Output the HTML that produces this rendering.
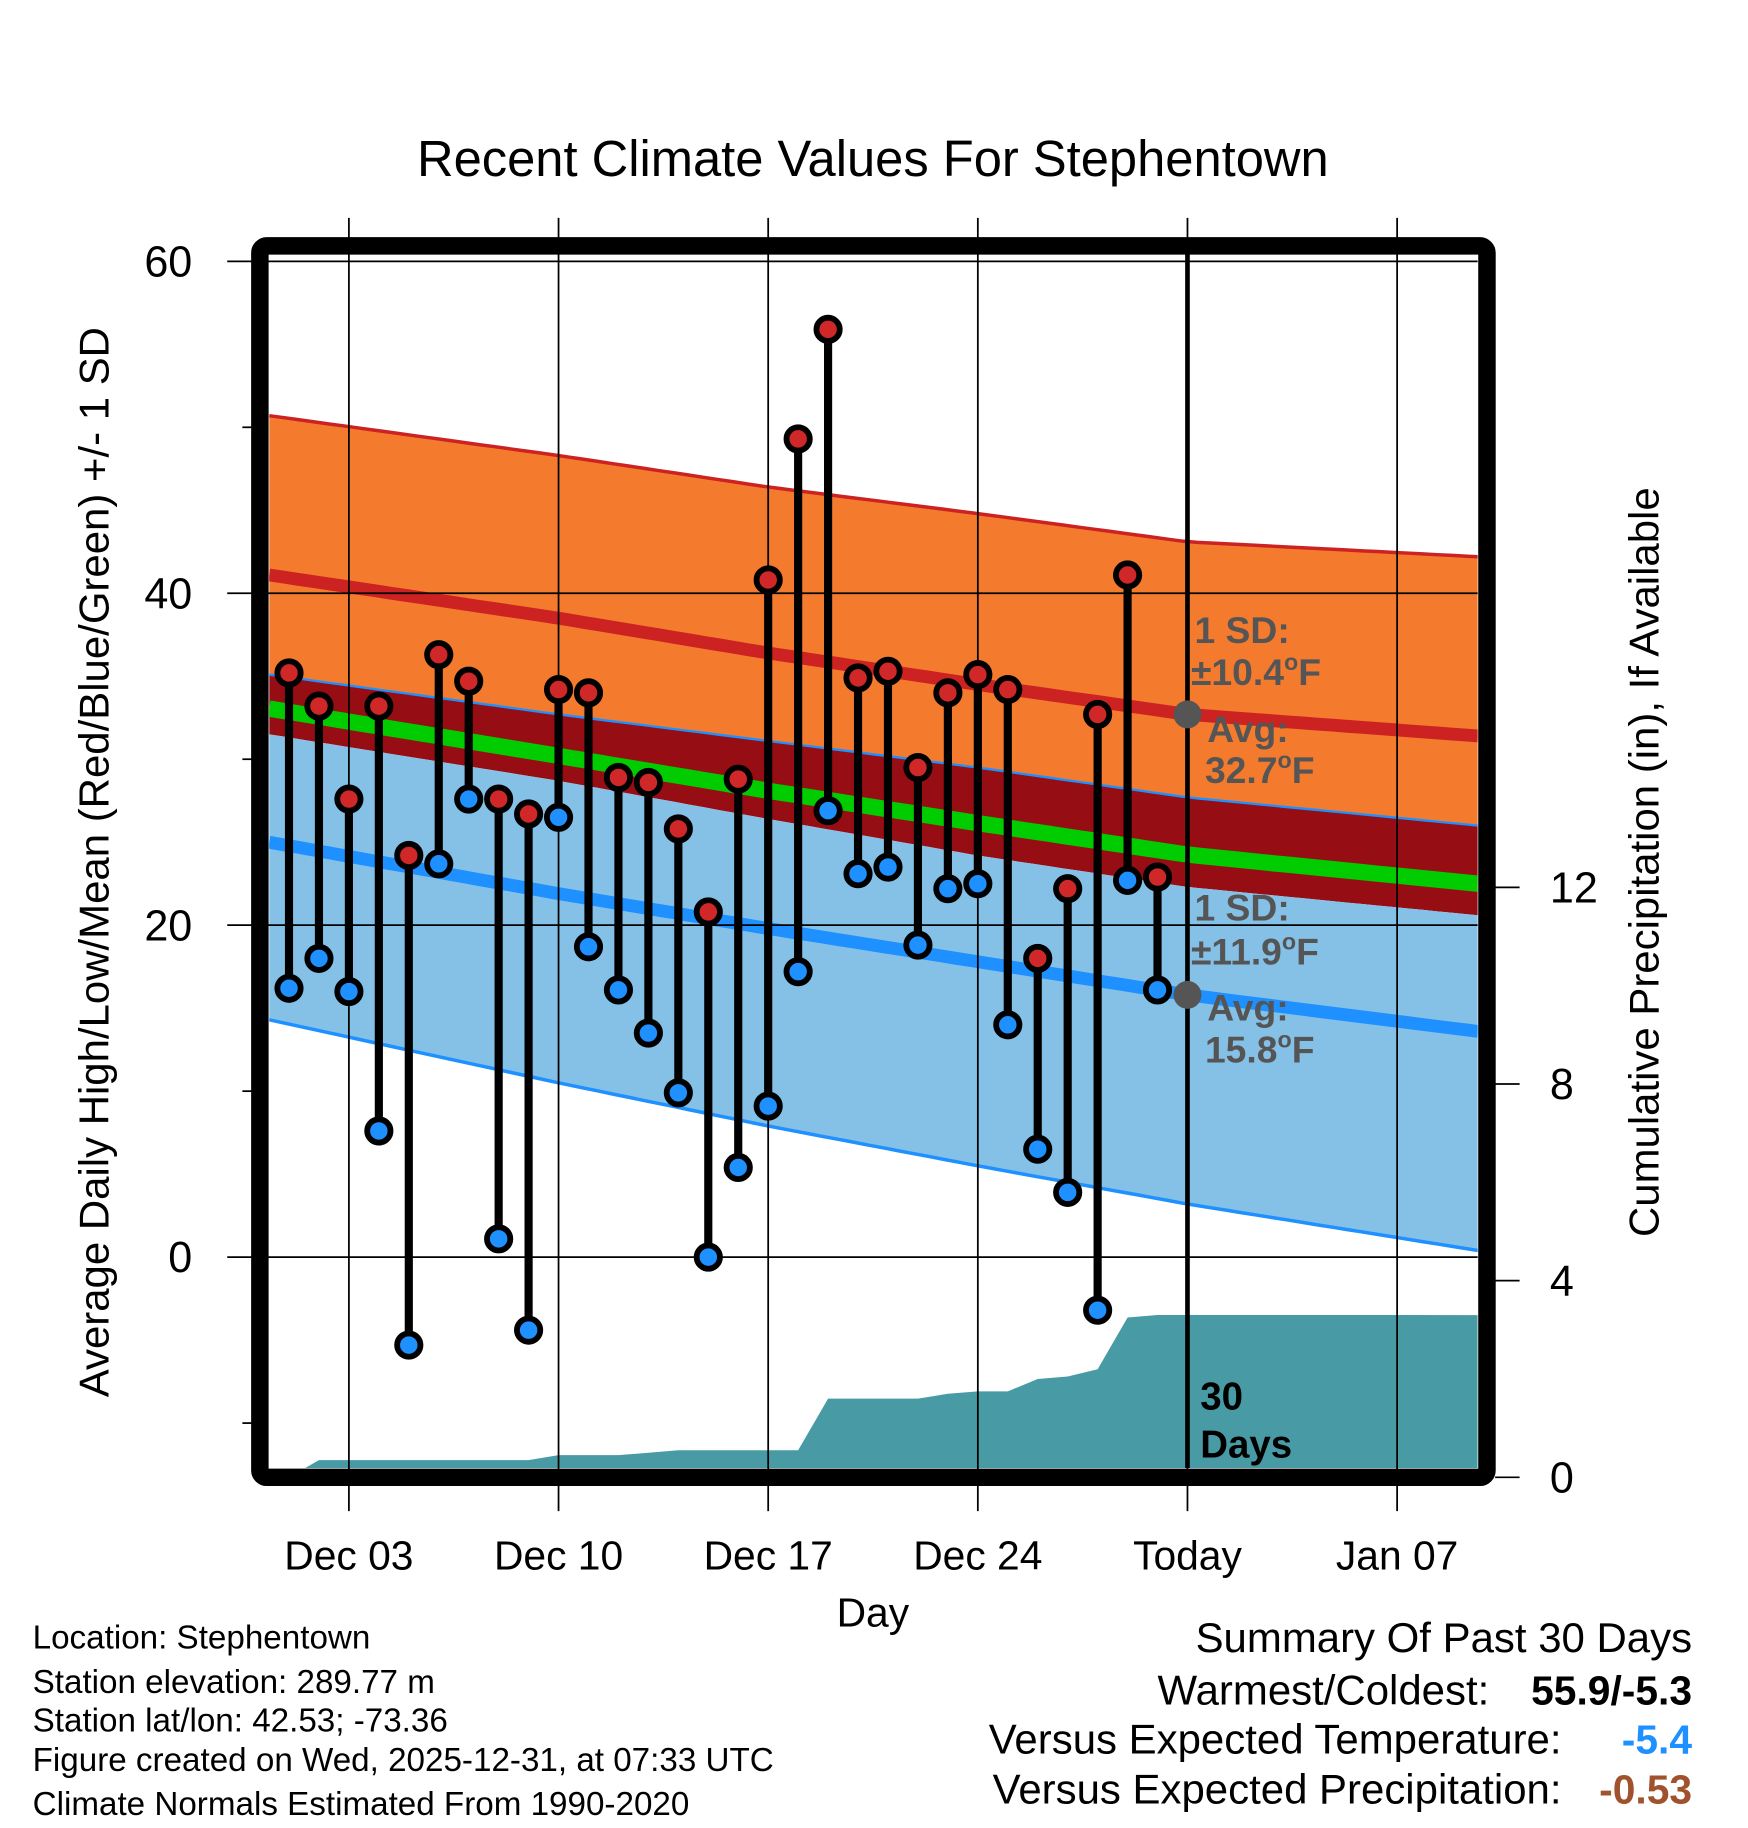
<!DOCTYPE html>
<html><head><meta charset="utf-8"><style>
html,body{margin:0;padding:0;background:#fff;}
svg{display:block;font-family:"Liberation Sans",sans-serif;}
</style></head><body>
<svg id="chart" width="1748" height="1828" viewBox="0 0 1500 1569" preserveAspectRatio="none" xmlns="http://www.w3.org/2000/svg">
<text x="749" y="151" font-size="43.5" text-anchor="middle">Recent Climate Values For Stephentown</text>
<g id="plot"></g>
</svg>
<script>
// ---- data ----
const dayLabels = ["Dec 03","Dec 10","Dec 17","Dec 24","Today","Jan 07"];
const dayLabelDays = [2,9,16,23,30,37];
const highs = [35.2,33.2,27.6,33.2,24.2,36.3,34.7,27.6,26.7,34.2,34.0,28.9,28.6,25.8,20.8,28.8,40.8,49.3,55.9,34.9,35.3,29.5,34.0,35.1,34.2,18.0,22.2,32.7,41.1,22.9];
const lows = [16.2,18.0,16.0,7.6,-5.3,23.7,27.6,1.1,-4.4,26.5,18.7,16.1,13.5,9.9,0.0,5.4,9.1,17.2,26.9,23.1,23.5,18.8,22.2,22.5,14.0,6.5,3.9,-3.2,22.7,16.1];
const precip = [0,0.35,0.35,0.35,0.35,0.35,0.35,0.35,0.35,0.45,0.45,0.45,0.5,0.55,0.55,0.55,0.55,0.55,1.6,1.6,1.6,1.6,1.7,1.75,1.75,2.0,2.05,2.2,3.25,3.3];
const normDays = [-0.66,9,16,23,30,39.7];
const normHigh = [41.1,38.5,36.4,34.5,32.7,31.4];
const highSD = [9.6,9.8,10.0,10.3,10.4,10.8];
const normLow = [25.0,21.9,19.8,17.8,15.8,13.6];
const lowSD = [10.1,10.8,11.3,11.7,11.9,12.4];
const lowSDLower = [10.7,11.4,11.9,12.3,12.6,13.2];
const yTicks = [0,20,40,60];
const yMinor = [-10,10,30,50];
const pTicks = [0,4,8,12];

// ---- axes ----
const X0=231,X1=1268,Y0=216,Y1=1260;
const xS=d=>248+d*25.7;
const yS=v=>1079-(v)*14.245;
const pS=p=>1268-p*42.2;
const NS="http://www.w3.org/2000/svg";
const g=document.getElementById('plot');
function mk(tag,attrs,parent){const e=document.createElementNS(NS,tag);for(const k in attrs)e.setAttribute(k,attrs[k]);(parent||g).appendChild(e);return e;}
function interp(arr,d){for(let i=0;i<normDays.length-1;i++){if(d<=normDays[i+1]||i==normDays.length-2){const t=(d-normDays[i])/(normDays[i+1]-normDays[i]);return arr[i]+(arr[i+1]-arr[i])*t;}}}
const samples=[];for(let d=normDays[0];d<normDays[5];d+=0.5)samples.push(d);samples.push(normDays[5]);
function series(fn){return samples.map(d=>[xS(d),yS(fn(d))]);}
function band(top,bot){const a=series(top),b=series(bot).reverse();return 'M'+a.concat(b).map(p=>p[0].toFixed(1)+','+p[1].toFixed(1)).join('L')+'Z';}
function line(fn){return 'M'+series(fn).map(p=>p[0].toFixed(1)+','+p[1].toFixed(1)).join('L');}
const hU=d=>interp(normHigh,d)+interp(highSD,d), hM=d=>interp(normHigh,d), hL=d=>interp(normHigh,d)-interp(highSD,d);
const lU=d=>interp(normLow,d)+interp(lowSD,d), lM=d=>interp(normLow,d), lL=d=>interp(normLow,d)-interp(lowSDLower,d);
const mean=d=>(hM(d)+lM(d))/2;

const clip=mk('clipPath',{id:'pc'});mk('rect',{x:X0,y:Y0,width:X1-X0,height:Y1-Y0},clip);
const pg=mk('g',{'clip-path':'url(#pc)'});

let e;
e=mk('path',{d:band(hU,lU),fill:'#f47a2e'},pg);


e=mk('path',{d:band(lU,hL),fill:'#960e14'},pg);


e=mk('path',{d:band(hL,lL),fill:'#85c1e6'},pg);


mk('path',{d:line(hU),fill:'none',stroke:'#cc2222','stroke-width':3},pg);
mk('path',{d:line(lU),fill:'none',stroke:'#1e90ff','stroke-width':2},pg);
mk('path',{d:line(lL),fill:'none',stroke:'#1e90ff','stroke-width':3},pg);
e=mk('path',{d:line(mean),fill:'none',stroke:'#00cc00','stroke-width':14},pg);


e=mk('path',{d:line(hM),fill:'none',stroke:'#cc2222','stroke-width':11},pg);


e=mk('path',{d:line(lM),fill:'none',stroke:'#1e90ff','stroke-width':11},pg);



// precip area
let pd='M'+X0+','+pS(0)+'L'+xS(0)+','+pS(precip[0]);
precip.forEach((p,i)=>{pd+='L'+xS(i).toFixed(1)+','+pS(p).toFixed(1);});
pd+='L'+X1+','+pS(precip[precip.length-1])+'L'+X1+','+pS(0)+'Z';
e=mk('path',{d:pd,fill:'#489ba5'},pg);



// grid
yTicks.forEach(v=>{mk('line',{x1:195,x2:X1,y1:yS(v),y2:yS(v),stroke:'#000','stroke-width':1.5});
 e=mk('text',{x:165,y:yS(v)+13,'font-size':37,'text-anchor':'end'});e.textContent=v;
 
 });
yMinor.forEach(v=>mk('line',{x1:208,x2:218,y1:yS(v),y2:yS(v),stroke:'#000','stroke-width':1.5}));
dayLabelDays.forEach((d,i)=>{mk('line',{x1:xS(d),x2:xS(d),y1:187,y2:1297,stroke:'#000','stroke-width':1.5});
 e=mk('text',{x:xS(d),y:1347,'font-size':35,'text-anchor':'middle'});e.textContent=dayLabels[i];
 
 });
pTicks.forEach(p=>{mk('line',{x1:1283,x2:1304,y1:pS(p),y2:pS(p),stroke:'#000','stroke-width':1.5});
 e=mk('text',{x:1330,y:pS(p)+13,'font-size':37,'text-anchor':'start'});e.textContent=p;
 
 });

// today line
e=mk('line',{x1:xS(30),x2:xS(30),y1:Y0,y2:Y1,stroke:'#000','stroke-width':4});



// stems and markers
highs.forEach((h,i)=>{
 const x=xS(i);
 e=mk('line',{x1:x,x2:x,y1:yS(h),y2:yS(lows[i]),stroke:'#000','stroke-width':7});
 
 
});
highs.forEach((h,i)=>{
 const x=xS(i);
 e=mk('circle',{cx:x,cy:yS(h),r:10,fill:'#d02828',stroke:'#000','stroke-width':5});
 
 
 e=mk('circle',{cx:x,cy:yS(lows[i]),r:10,fill:'#1e90ff',stroke:'#000','stroke-width':5});
 
 
});

// avg dots & annotations
[[hM(30),'high'],[lM(30),'low']].forEach(a=>{e=mk('circle',{cx:xS(30),cy:yS(a[0]),r:12,fill:'#555'});
 
 });
function ann(x,y,html,name){const t=mk('text',{x:x,y:y,'font-size':32,'font-weight':'bold',fill:'#555'});t.innerHTML=html;
 
 }
ann(1025,552,'1 SD:','high-sd-label');
ann(1022,588,'±10.4<tspan font-size="20" dy="-13">o</tspan><tspan dy="13">F</tspan>','high-sd-value');
ann(1036,637,'Avg:','high-avg-label');
ann(1034,672,'32.7<tspan font-size="20" dy="-13">o</tspan><tspan dy="13">F</tspan>','high-avg-value');
ann(1025,790,'1 SD:','low-sd-label');
ann(1022,828,'±11.9<tspan font-size="20" dy="-13">o</tspan><tspan dy="13">F</tspan>','low-sd-value');
ann(1036,876,'Avg:','low-avg-label');
ann(1034,912,'15.8<tspan font-size="20" dy="-13">o</tspan><tspan dy="13">F</tspan>','low-avg-value');
e=mk('text',{x:1030,y:1210,'font-size':33,'font-weight':'bold'});e.textContent='30';


e=mk('text',{x:1030,y:1251,'font-size':33,'font-weight':'bold'});e.textContent='Days';



// frame
e=mk('rect',{x:223,y:211,width:1053,height:1057,rx:6,fill:'none',stroke:'#000','stroke-width':15});



// axis titles and footer
function txt(x,y,s,size,anchor,extra,name){const t=mk('text',Object.assign({x:x,y:y,'font-size':size,'text-anchor':anchor},extra||{}));t.textContent=s;
 
 return t;}
txt(93,740,'Average Daily High/Low/Mean (Red/Blue/Green) +/- 1 SD',36,'middle',{transform:'rotate(-90 93 740)'},'y-axis-title');
txt(1423,740,'Cumulative Precipitation (in), If Available',36,'middle',{transform:'rotate(-90 1423 740)'},'precip-axis-title');
txt(749,1396,'Day',35,'middle',null,'x-axis-title');
const foot=['Location: Stephentown','Station elevation: 289.77 m','Station lat/lon: 42.53; -73.36','Figure created on Wed, 2025-12-31, at 07:33 UTC','Climate Normals Estimated From 1990-2020'];
const fy=[1415,1453,1486,1520,1558];
foot.forEach((s,i)=>txt(28,fy[i],s,28.5,'start',null,'station-info-line'));
txt(1452,1418,'Summary Of Past 30 Days',36,'end',null,'summary-title');
txt(1278,1463,'Warmest/Coldest:',36,'end',null,'warmest-coldest-label');
txt(1452,1463,'55.9/-5.3',35,'end',{'font-weight':'bold'},'warmest-coldest-value');
txt(1340,1505,'Versus Expected Temperature:',36,'end',null,'temp-departure-label');
txt(1452,1505,'-5.4',35,'end',{'font-weight':'bold',fill:'#1e90ff'},'temp-departure-value');
txt(1340,1548,'Versus Expected Precipitation:',36,'end',null,'precip-departure-label');
txt(1452,1548,'-0.53',35,'end',{'font-weight':'bold',fill:'#a0522d'},'precip-departure-value');
</script>
</body></html>
